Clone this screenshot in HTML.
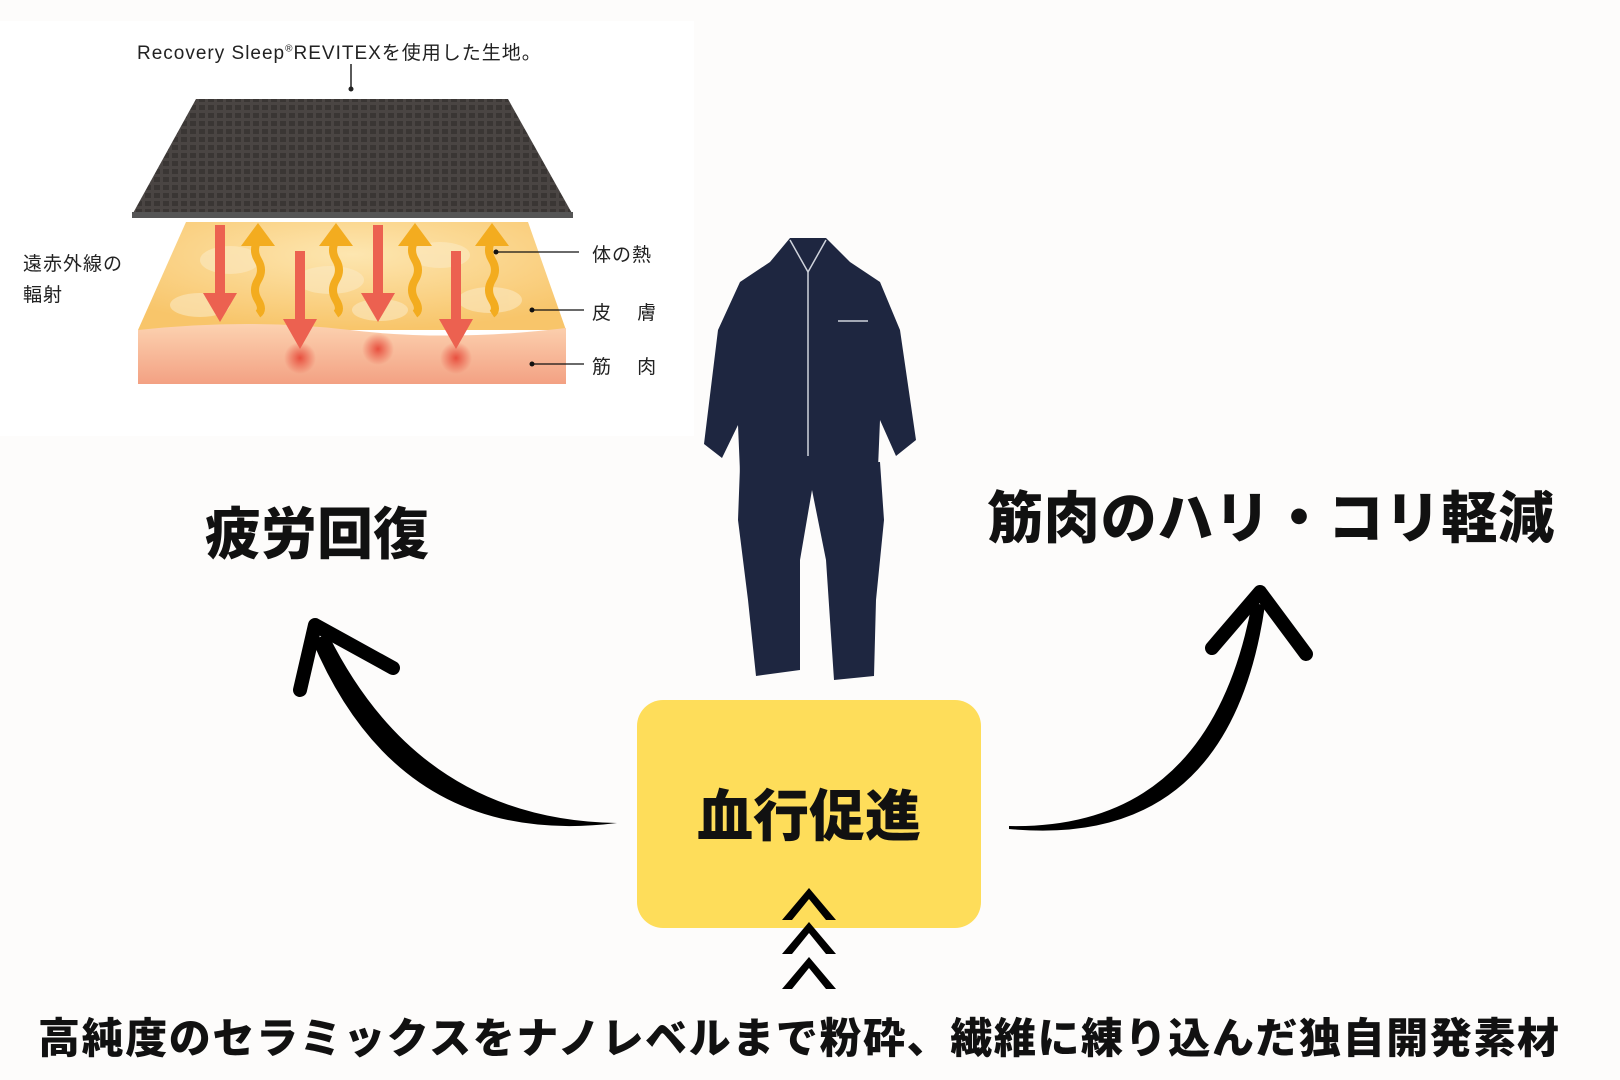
<!DOCTYPE html>
<html><head><meta charset="utf-8"><style>
html,body{margin:0;padding:0;}
body{width:1620px;height:1080px;background:#fdfcfb;position:relative;overflow:hidden;font-family:"Liberation Sans","Noto Sans CJK JP",sans-serif;}
.t{position:absolute;white-space:nowrap;color:#111;}
.b{font-weight:900;}
</style></head><body>
<svg width="1620" height="1080" style="position:absolute;left:0;top:0">
<defs>
<radialGradient id="sk" cx="50%" cy="30%" r="70%"><stop offset="0" stop-color="#fde6b0"/><stop offset="1" stop-color="#f8c56a"/></radialGradient>
<linearGradient id="mu" x1="0" y1="0" x2="0" y2="1"><stop offset="0" stop-color="#fcd2b0"/><stop offset="1" stop-color="#f3a183"/></linearGradient>
<radialGradient id="dot"><stop offset="0" stop-color="#e8503f"/><stop offset="1" stop-color="#e8503f" stop-opacity="0"/></radialGradient>
<pattern id="grid" width="9" height="8" patternUnits="userSpaceOnUse"><rect width="9" height="8" fill="#4a4543"/><rect x="1" y="1" width="6" height="5" fill="#3a3634"/></pattern>
</defs>
<rect x="0" y="21" width="694" height="415" fill="#fff"/>
<line x1="351" y1="64" x2="351" y2="88" stroke="#222" stroke-width="1.5"/>
<circle cx="351" cy="89" r="2.5" fill="#222"/>
<polygon points="186,222 528,222 566,330 138,330" fill="url(#sk)"/>
<g fill="#fbe9c2" opacity="0.6">
<ellipse cx="230" cy="260" rx="30" ry="14"/><ellipse cx="330" cy="280" rx="34" ry="14"/><ellipse cx="440" cy="255" rx="30" ry="13"/><ellipse cx="200" cy="305" rx="30" ry="12"/><ellipse cx="490" cy="300" rx="32" ry="13"/><ellipse cx="380" cy="310" rx="28" ry="11"/></g>
<path d="M138,330 Q250,318 350,330 T566,328 L566,384 L138,384 Z" fill="url(#mu)"/>
<polygon points="196,99 508,99 573,215 132,215" fill="url(#grid)"/>
<rect x="132" y="212" width="441" height="6" fill="#555"/>
<circle cx="300" cy="358" r="16" fill="url(#dot)"/><circle cx="378" cy="349" r="16" fill="url(#dot)"/><circle cx="456" cy="358" r="16" fill="url(#dot)"/>
<g fill="#ec6150">
<rect x="215" y="225" width="10" height="70"/><polygon points="203,293 237,293 220,322"/>
<rect x="295" y="251" width="10" height="70"/><polygon points="283,319 317,319 300,349"/>
<rect x="373" y="225" width="10" height="70"/><polygon points="361,293 395,293 378,322"/>
<rect x="451" y="251" width="10" height="70"/><polygon points="439,319 473,319 456,349"/>
</g>
<g fill="none" stroke="#f3ac1f" stroke-width="8">
<path d="M258,240 q-6,10 0,20 t0,20 t0,20 t0,14"/><path d="M336,240 q-6,10 0,20 t0,20 t0,20 t0,14"/><path d="M415,240 q-6,10 0,20 t0,20 t0,20 t0,14"/><path d="M492,240 q-6,10 0,20 t0,20 t0,20 t0,14"/>
</g>
<g fill="#f3ac1f">
<polygon points="241,246 275,246 258,223"/><polygon points="319,246 353,246 336,223"/><polygon points="398,246 432,246 415,223"/><polygon points="475,246 509,246 492,223"/></g>
<g stroke="#111" stroke-width="1.3"><line x1="496" y1="252" x2="579" y2="252"/><line x1="532" y1="310" x2="584" y2="310"/><line x1="532" y1="364" x2="584" y2="364"/></g>
<g fill="#111"><circle cx="496" cy="252" r="2.5"/><circle cx="532" cy="310" r="2.5"/><circle cx="532" cy="364" r="2.5"/></g>
<g fill="#1e2640">
<path d="M790,238 L826,238 L850,262 L880,282 L900,330 L916,440 L896,456 L880,420 L878,468 L740,472 L738,425 L722,458 L704,444 L718,330 L740,282 L770,262 Z"/>
<path d="M740,466 L880,462 L884,520 L876,600 L874,676 L834,680 L826,560 L812,490 L800,560 L800,670 L756,676 L748,600 L738,520 Z"/>
</g>
<g fill="none" stroke="#cfd3dc" stroke-width="1.5"><path d="M790,240 L808,272 L826,240"/><path d="M808,272 L808,456"/><line x1="838" y1="321" x2="868" y2="321"/></g>
<path d="M617,823 Q400,850 312,640 L328,634 Q420,820 617,823 Z" fill="#000"/>
<polyline points="300,690 315,625 393,668" fill="none" stroke="#000" stroke-width="14" stroke-linecap="round" stroke-linejoin="round"/>
<path d="M1009,829 Q1230,850 1265,605 L1252,603 Q1210,830 1009,826 Z" fill="#000"/>
<polyline points="1212,648 1260,592 1306,654" fill="none" stroke="#000" stroke-width="14" stroke-linecap="round" stroke-linejoin="round"/>
<rect x="637" y="700" width="344" height="228" rx="26" fill="#fedd5a"/>
<g fill="#000">
<polygon points="782,920 809,888 836,920 826,920 809,899 792,920"/>
<polygon points="782,954 809,922 836,954 826,954 809,933 792,954"/>
<polygon points="782,989 809,957 836,989 826,989 809,968 792,989"/>
</g>
</svg>
<div class="t" style="left:137px;top:38px;font-size:19px;letter-spacing:1px;color:#222">Recovery Sleep<sup style="font-size:10px">®</sup>REVITEXを使用した生地。</div>
<div class="t" style="left:23px;top:249px;font-size:19px;line-height:31px;letter-spacing:1px;color:#222">遠赤外線の<br>輻射</div>
<div class="t" style="left:592px;top:240px;font-size:19px;letter-spacing:1px;color:#222">体の熱</div>
<div class="t" style="left:592px;top:298px;font-size:19px;letter-spacing:1px;color:#222">皮&nbsp;&nbsp;&nbsp;&nbsp;膚</div>
<div class="t" style="left:592px;top:352px;font-size:19px;letter-spacing:1px;color:#222">筋&nbsp;&nbsp;&nbsp;&nbsp;肉</div>
<div class="t b" style="left:205px;top:490px;font-size:56px;">疲労回復</div>
<div class="t b" style="left:987px;top:474px;font-size:56px;letter-spacing:0.8px;">筋肉のハリ・コリ軽減</div>
<div class="t b" style="left:697px;top:772px;font-size:56px;">血行促進</div>
<div class="t b" style="left:38px;top:1005px;font-size:42px;letter-spacing:1.6px;">高純度のセラミックスをナノレベルまで粉砕、繊維に練り込んだ独自開発素材</div>
</body></html>
